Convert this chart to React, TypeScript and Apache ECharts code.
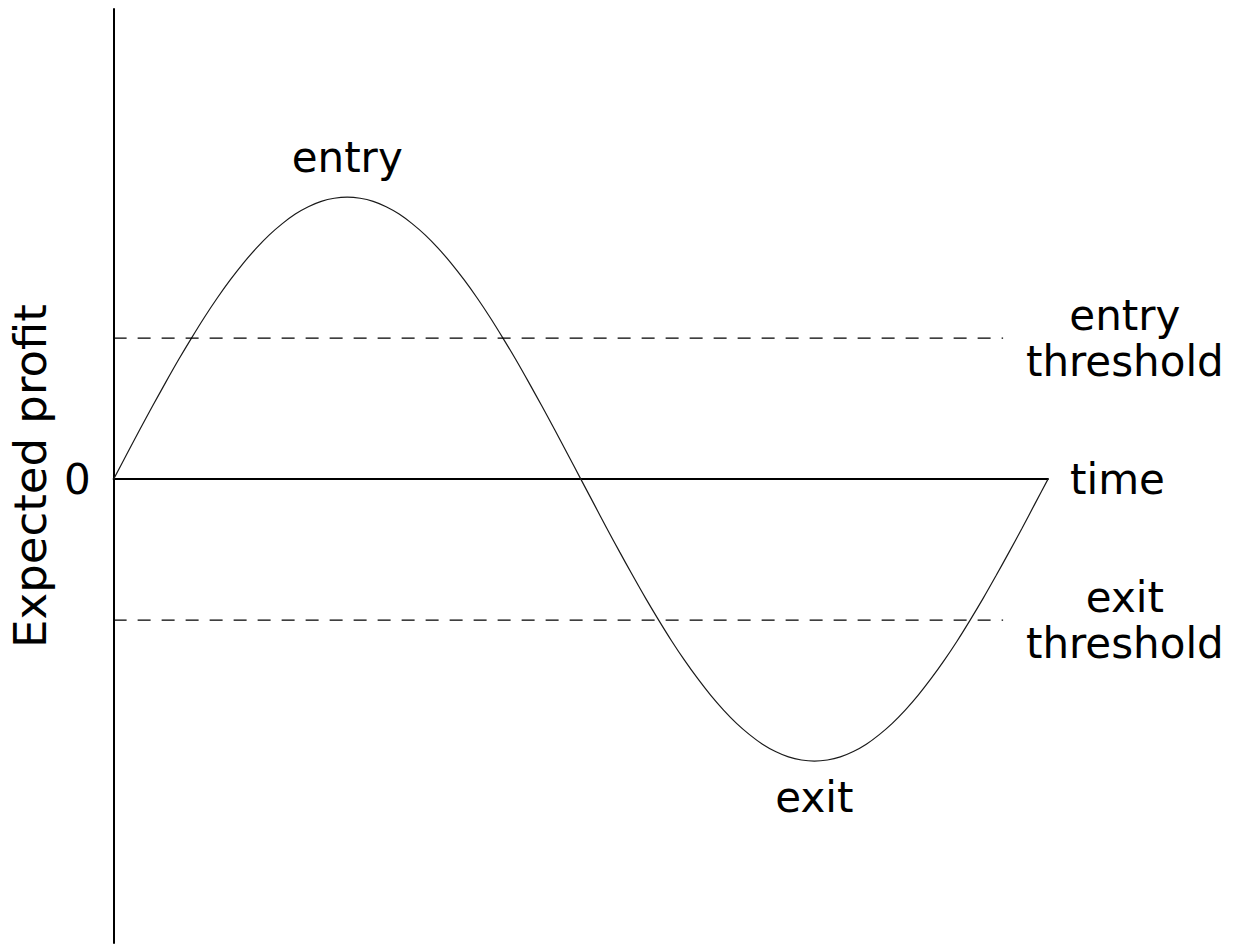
import React, { useEffect, useRef } from "react";
import * as echarts from "echarts";

// Time steps along the horizontal axis and profit values
const timeSteps = Array.from({ length: 73 }, (_, i) => i);
const profit = [
  0, 0.087, 0.174, 0.259, 0.342, 0.423, 0.5, 0.574, 0.643, 0.707, 0.766, 0.819, 0.866, 0.906, 0.94, 0.966, 0.985, 0.996,
  1, 0.996, 0.985, 0.966, 0.94, 0.906, 0.866, 0.819, 0.766, 0.707, 0.643, 0.574, 0.5, 0.423, 0.342, 0.259, 0.174, 0.087,
  0, -0.087, -0.174, -0.259, -0.342, -0.423, -0.5, -0.574, -0.643, -0.707, -0.766, -0.819, -0.866, -0.906, -0.94, -0.966, -0.985, -0.996,
  -1, -0.996, -0.985, -0.966, -0.94, -0.906, -0.866, -0.819, -0.766, -0.707, -0.643, -0.574, -0.5, -0.423, -0.342, -0.259, -0.174, -0.087,
  0,
];
const entryThreshold = 0.5;
const exitThreshold = -0.5;
const thresholdEnd = 68.54;
const yMin = -1.645;
const yMax = 1.667;
const xMax = 72;

const labels = [
  { text: "entry", pos: [18, 1.14] },
  { text: "exit", pos: [54, -1.13] },
  { text: "entry\nthreshold", pos: [77.92, entryThreshold] },
  { text: "exit\nthreshold", pos: [77.92, exitThreshold] },
];

const FONT = "DejaVu Sans";
const FS = 42;

export default function App() {
  const ref = useRef<HTMLDivElement>(null);
  useEffect(() => {
    const chart = echarts.init(ref.current!, undefined, { renderer: "svg" });
    chart.setOption({
      animation: false,
      backgroundColor: "#fff",
      grid: { left: 112, right: 186, top: 9, bottom: 3 },
      xAxis: {
        type: "value",
        min: 0,
        max: xMax,
        axisLine: { onZero: true, lineStyle: { color: "#000", width: 2 } },
        axisTick: { show: false },
        axisLabel: { show: false },
        splitLine: { show: false },
        name: "time",
        nameLocation: "end",
        nameGap: 22,
        nameTextStyle: { fontFamily: FONT, fontSize: FS, color: "#000", verticalAlign: "middle" },
      },
      yAxis: {
        type: "value",
        min: yMin,
        max: yMax,
        axisLine: { onZero: false, lineStyle: { color: "#000", width: 2 } },
        axisTick: { show: false },
        axisLabel: { show: true, customValues: [0], fontFamily: FONT, fontSize: FS, color: "#000", margin: 23 },
        splitLine: { show: false },
        name: "Expected profit",
        nameLocation: "middle",
        nameRotate: 90,
        nameGap: 60,
        nameTextStyle: { fontFamily: FONT, fontSize: 45, color: "#000" },
      },
      series: [
        {
          type: "line",
          data: timeSteps.map((t, i) => [t, profit[i]]),
          smooth: 0.3,
          symbol: "none",
          lineStyle: { color: "#1a1a1a", width: 1.2 },
        },
        {
          type: "line",
          data: [[0, entryThreshold], [thresholdEnd, entryThreshold]],
          symbol: "none",
          lineStyle: { color: "#000", width: 1.2, type: [13, 11] },
        },
        {
          type: "line",
          data: [[0, exitThreshold], [thresholdEnd, exitThreshold]],
          symbol: "none",
          lineStyle: { color: "#000", width: 1.2, type: [13, 11] },
        },
      ],
    });
    const graphic = labels.map((l) => {
      const p = chart.convertToPixel({ gridIndex: 0 }, l.pos) as number[];
      return {
        type: "text",
        x: p[0],
        y: p[1],
        style: {
          text: l.text,
          fontFamily: FONT,
          fontSize: FS,
          fill: "#000",
          align: "center",
          verticalAlign: "middle",
          lineHeight: 46,
        },
      };
    });
    chart.setOption({ graphic });
    return () => chart.dispose();
  }, []);
  return (
    <div
      ref={ref}
      style={{ position: "fixed", left: 0, top: 0, width: 1234, height: 946, background: "#fff" }}
    />
  );
}
